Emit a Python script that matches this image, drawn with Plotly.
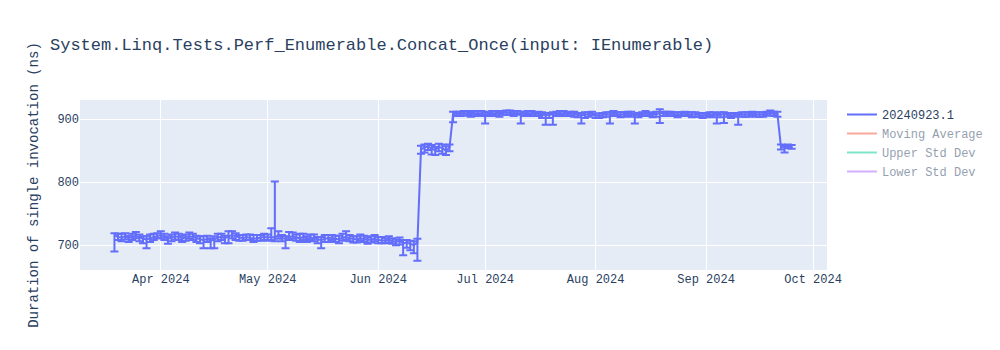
import pandas as pd
import plotly.graph_objects as go

# ---- Data (daily mean duration in ns, plus upper/lower error) ----
# Segment 1: low plateau, 2024-03-19 .. 2024-06-12
low_start = "2024-03-19"
low_vals = [716, 713, 712, 714, 711, 713, 715, 712, 710, 709, 711, 713, 715,
            716, 713, 710, 712, 714, 713, 711, 712, 714, 713, 711, 709, 708, 710, 707,
            709, 712, 713, 711, 714, 716, 714, 712, 711, 713, 712, 710, 711, 712, 713,
            712,
            713, 712, 716, 711, 710, 713, 714, 712, 711, 713, 710, 712, 711, 709, 708, 710,
            711, 712, 710, 709, 712, 713, 711, 710, 709, 711, 710, 708, 709, 710, 708,
            708, 707, 709, 706, 705, 707, 703, 704, 702, 700, 704]
low_up = [3, 5, 6, 5, 4, 5, 6, 5, 4, 5, 6, 5, 4,
          6, 5, 4, 5, 6, 5, 4, 5, 6, 5, 4, 5, 6, 5, 4, 5, 6, 5, 4, 8, 6, 5, 4, 5, 4, 5, 6, 5, 4, 5,
          5,
          14, 89, 6, 5, 4, 8, 6, 5, 7, 5, 4, 5, 6, 4, 5, 6, 5, 4, 5, 6, 6, 9, 5, 4, 5, 6, 5, 4, 5, 6, 5,
          5, 4, 5, 5, 4, 5, 5, 4, 5, 6, 6]
low_dn = [26, 5, 6, 5, 6, 5, 4, 6, 7, 14, 6, 5, 4,
          5, 5, 8, 6, 5, 5, 6, 5, 4, 5, 6, 6, 13, 5, 12, 14, 6, 5, 8, 11, 5, 6, 5, 4, 5, 4, 5, 4, 5, 5,
          5,
          5, 6, 6, 5, 15, 5, 4, 5, 6, 5, 5, 4, 5, 6, 13, 5, 6, 4, 5, 6, 5, 4, 5, 6, 5, 4, 5, 6, 5, 4, 5,
          5, 4, 5, 4, 5, 6, 19, 8, 10, 13, 29]

# Segment 2: middle plateau, 2024-06-13 .. 2024-06-21
mid_start = "2024-06-13"
mid_vals = [852, 855, 857, 853, 851, 856, 854, 850, 855]
mid_up = [6, 5, 4, 6, 5, 5, 6, 7, 5]
mid_dn = [7, 8, 6, 9, 8, 7, 9, 7, 6]

# Segment 3: high plateau, 2024-06-22 .. 2024-09-21
high_start = "2024-06-22"
high_vals = [908, 909, 908, 910, 909, 908, 909, 910, 909,
             907, 909, 910, 909, 908, 910, 911, 910, 909, 910, 908, 909, 910, 909, 908, 909,
             907, 906, 907, 908, 909, 910, 909, 908, 909, 908, 907, 906, 907, 908, 909,
             906, 905, 907, 908, 907, 909, 908, 907, 908, 909, 908, 906, 907, 908, 909, 908,
             907, 908, 910, 909, 908, 909, 908, 907, 908, 909, 908, 907, 908, 907, 906,
             907, 908, 907, 906, 907, 908, 907, 906, 907, 906, 908, 907, 908, 909, 908, 907,
             908, 909, 910, 909, 908]
high_up = [4, 3, 4, 3, 4, 3, 4, 3, 4,
           4, 3, 3, 4, 3, 3, 3, 4, 3, 3, 4, 3, 3, 4, 3, 3, 4, 4, 3, 3, 3, 3, 4, 3, 3, 4, 3, 4, 4, 3, 3,
           3, 4, 3, 3, 4, 4, 3, 4, 3, 3, 4, 3, 3, 3, 4, 3, 3, 4, 6, 3, 4, 3, 3, 4, 3, 3, 3, 4, 3, 3, 4,
           3, 3, 4, 3, 4, 3, 3, 4, 3, 3, 3, 4, 3, 3, 3, 4, 3, 3, 4, 3, 4]
high_dn = [13, 4, 3, 4, 3, 4, 4, 3, 4,
           14, 4, 3, 4, 4, 3, 4, 3, 4, 3, 15, 4, 3, 4, 3, 4, 5, 15, 5, 17, 4, 3, 4, 3, 4, 4, 4, 13, 5, 4, 3,
           4, 3, 4, 4, 14, 4, 3, 4, 4, 3, 4, 13, 4, 3, 4, 3, 4, 4, 16, 4, 3, 4, 3, 4, 3, 4, 3, 4, 4, 3, 4,
           4, 3, 4, 13, 4, 14, 3, 4, 3, 15, 4, 3, 4, 3, 4, 3, 4, 3, 4, 4, 4]

# Segment 4: final drop, 2024-09-22 .. 2024-09-25
end_start = "2024-09-22"
end_vals = [856, 855, 857, 856]
end_up = [4, 3, 3, 3]
end_dn = [4, 8, 3, 3]

segments = [(low_start, low_vals, low_up, low_dn),
            (mid_start, mid_vals, mid_up, mid_dn),
            (high_start, high_vals, high_up, high_dn),
            (end_start, end_vals, end_up, end_dn)]

dates, values, err_up, err_dn = [], [], [], []
for start, v, u, d in segments:
    n = min(len(v), len(u), len(d))
    dates += list(pd.date_range(start, periods=n, freq="D"))
    values += v[:n]
    err_up += u[:n]
    err_dn += d[:n]

s = pd.Series(values, index=pd.DatetimeIndex(dates))
moving_avg = s.rolling(7, min_periods=1).mean()
moving_std = s.rolling(7, min_periods=1).std().fillna(0)
upper_std = moving_avg + moving_std
lower_std = moving_avg - moving_std

font_family = "Liberation Mono, Courier New, monospace"

fig = go.Figure()
fig.add_trace(go.Scatter(
    x=dates, y=values, mode="lines", name="20240923.1",
    line=dict(color="#636efa", width=2),
    error_y=dict(type="data", symmetric=False, array=err_up, arrayminus=err_dn,
                 color="#636efa", thickness=2, width=4),
))
fig.add_trace(go.Scatter(x=dates, y=moving_avg, mode="lines", name="Moving Average",
                         line=dict(color="#EF553B"), visible="legendonly"))
fig.add_trace(go.Scatter(x=dates, y=upper_std, mode="lines", name="Upper Std Dev",
                         line=dict(color="#00cc96"), visible="legendonly"))
fig.add_trace(go.Scatter(x=dates, y=lower_std, mode="lines", name="Lower Std Dev",
                         line=dict(color="#ab63fa"), visible="legendonly"))

fig.update_layout(
    width=1000, height=350,
    template="plotly",
    font=dict(family=font_family),
    title=dict(text="System.Linq.Tests.Perf_Enumerable.Concat_Once(input: IEnumerable)"),
    yaxis=dict(title=dict(text="Duration of single invocation (ns)"), range=[660.5, 930.5]),
    xaxis=dict(range=["2024-03-09 08:00", "2024-10-04 22:00"]),
)

fig.write_html("out.html")
